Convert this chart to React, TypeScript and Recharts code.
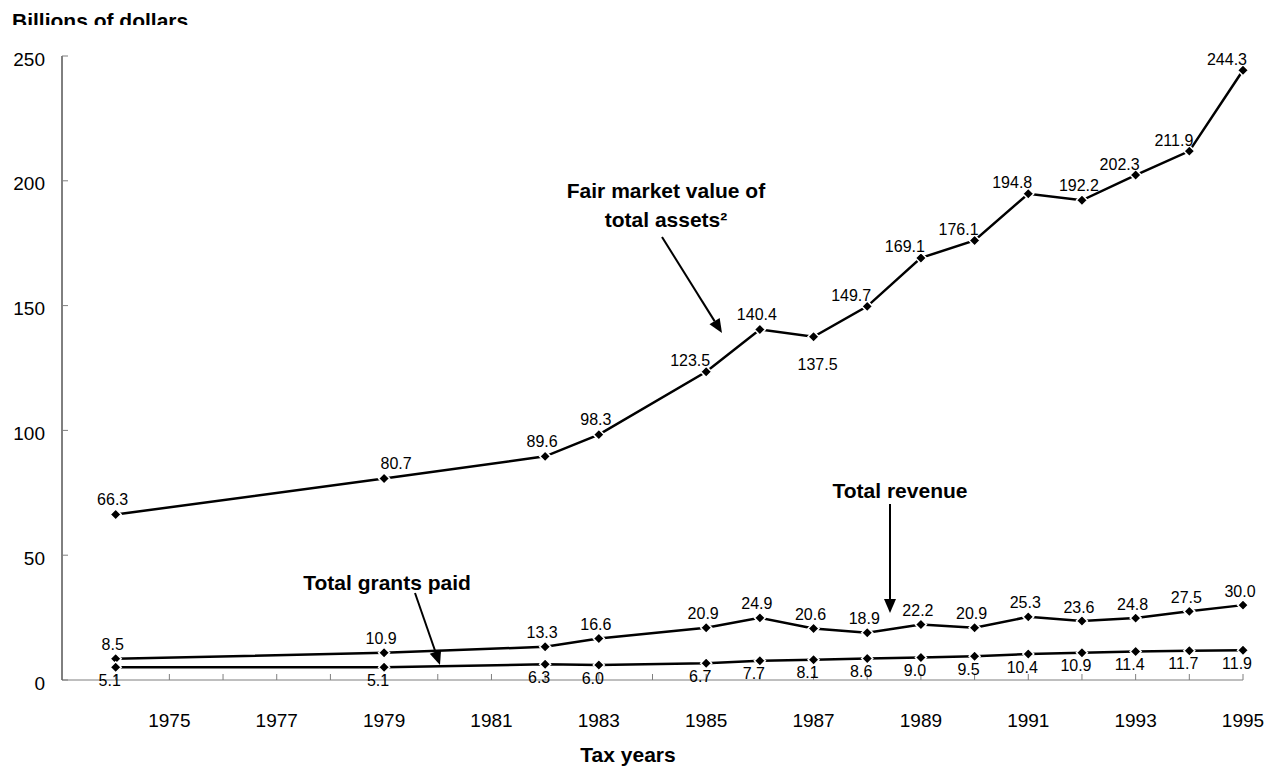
import { LineChart, Line, XAxis, YAxis, LabelList } from "recharts";

const years = [1974, 1979, 1982, 1983, 1985, 1986, 1987, 1988, 1989, 1990, 1991, 1992, 1993, 1994, 1995];
const assets = [66.3, 80.7, 89.6, 98.3, 123.5, 140.4, 137.5, 149.7, 169.1, 176.1, 194.8, 192.2, 202.3, 211.9, 244.3];
const revenue = [8.5, 10.9, 13.3, 16.6, 20.9, 24.9, 20.6, 18.9, 22.2, 20.9, 25.3, 23.6, 24.8, 27.5, 30.0];
const grants = [5.1, 5.1, 6.3, 6.0, 6.7, 7.7, 8.1, 8.6, 9.0, 9.5, 10.4, 10.9, 11.4, 11.7, 11.9];

const yTicks = [0, 50, 100, 150, 200, 250];
const xTicks = [
  1974, 1975, 1976, 1977, 1978, 1979, 1980, 1981, 1982, 1983, 1984,
  1985, 1986, 1987, 1988, 1989, 1990, 1991, 1992, 1993, 1994, 1995,
];
const labeledYears = [1975, 1977, 1979, 1981, 1983, 1985, 1987, 1989, 1991, 1993, 1995];

const data = years.map((year, i) => ({
  year,
  assets: assets[i],
  revenue: revenue[i],
  grants: grants[i],
}));

const FONT = "'Liberation Sans', Arial, Helvetica, sans-serif";

// which asset labels sit centred above / below / right instead of up-left
const assetsCentered = [0, 2, 3, 5, 11];
const assetsRight = [1];
const assetsBelow = [6];

function Diamond(props: any) {
  const { cx, cy } = props;
  if (cx == null || cy == null) return null;
  const r = 5.5;
  return (
    <polygon
      points={`${cx},${cy - r} ${cx + r},${cy} ${cx},${cy + r} ${cx - r},${cy}`}
      fill="#000"
      stroke="#fff"
      strokeWidth={1.5}
    />
  );
}

function fmt(v: number) {
  return v.toFixed(1);
}

function AssetLabel(props: any) {
  const { x, y, value, index } = props;
  let tx = x + 4;
  let ty = y - 11;
  let anchor: "end" | "middle" = "end";
  if (assetsBelow.includes(index)) {
    tx = x + 4;
    ty = y + 28;
    anchor = "middle";
  } else if (assetsRight.includes(index)) {
    tx = x + 12;
    ty = y - 15;
    anchor = "middle";
  } else if (assetsCentered.includes(index)) {
    tx = x - 3;
    ty = y - 15;
    anchor = "middle";
  }
  return (
    <text x={tx} y={ty} textAnchor={anchor} dominantBaseline="central" fontSize={16} fontFamily={FONT} fill="#000">
      {fmt(value)}
    </text>
  );
}

function RevenueLabel(props: any) {
  const { x, y, value } = props;
  return (
    <text x={x - 3} y={y - 14} textAnchor="middle" dominantBaseline="central" fontSize={16} fontFamily={FONT} fill="#000">
      {fmt(value)}
    </text>
  );
}

function GrantsLabel(props: any) {
  const { x, y, value } = props;
  return (
    <text x={x - 6} y={y + 13} textAnchor="middle" dominantBaseline="central" fontSize={16} fontFamily={FONT} fill="#000">
      {fmt(value)}
    </text>
  );
}

function XTick(props: any) {
  const { x, y, payload } = props;
  const show = labeledYears.includes(payload.value);
  return (
    <g>
      <line x1={x} y1={y} x2={x} y2={y - 6} stroke="#7f7f7f" strokeWidth={1} />
      {show && (
        <text x={x} y={y + 40} textAnchor="middle" dominantBaseline="central" fontSize={19} fontFamily={FONT} fill="#000">
          {payload.value}
        </text>
      )}
    </g>
  );
}

function YTick(props: any) {
  const { x, y, payload } = props;
  return (
    <g>
      <line x1={x} y1={y} x2={x + 6} y2={y} stroke="#7f7f7f" strokeWidth={1} />
      <text x={x - 17} y={y + 3} textAnchor="end" dominantBaseline="central" fontSize={19} fontFamily={FONT} fill="#000">
        {payload.value}
      </text>
    </g>
  );
}

function Arrow({ x1, y1, x2, y2 }: { x1: number; y1: number; x2: number; y2: number }) {
  const len = Math.hypot(x2 - x1, y2 - y1);
  const ux = (x2 - x1) / len;
  const uy = (y2 - y1) / len;
  const head = 14;
  const half = 6;
  const bx = x2 - ux * head;
  const by = y2 - uy * head;
  const p1 = `${bx - uy * half},${by + ux * half}`;
  const p2 = `${bx + uy * half},${by - ux * half}`;
  return (
    <g>
      <line x1={x1} y1={y1} x2={bx} y2={by} stroke="#000" strokeWidth={2} />
      <polygon points={`${x2},${y2} ${p1} ${p2}`} fill="#000" />
    </g>
  );
}

export default function App() {
  return (
    <div style={{ position: "relative", width: 1272, height: 768, background: "#fff" }}>
      <style>{"body{margin:0}"}</style>
      <LineChart
        width={1272}
        height={768}
        data={data}
        margin={{ top: 56, right: 29, bottom: 28, left: 0 }}
      >
        <XAxis
          dataKey="year"
          type="number"
          domain={[1973, 1995]}
          ticks={xTicks}
          interval={0}
          tickLine={false}
          tickSize={0}
          tickMargin={0}
          tick={<XTick />}
          height={60}
          stroke="#7f7f7f"
          axisLine={{ stroke: "#7f7f7f", strokeWidth: 1 }}
        />
        <YAxis
          type="number"
          domain={[0, 250]}
          ticks={yTicks}
          interval={0}
          tickLine={false}
          tickSize={0}
          tickMargin={0}
          tick={<YTick />}
          width={62}
          axisLine={{ stroke: "#000", strokeWidth: 1 }}
        />
        <Line
          dataKey="assets"
          stroke="#000"
          strokeWidth={2.5}
          dot={<Diamond />}
          activeDot={false}
          isAnimationActive={false}
        >
          <LabelList dataKey="assets" content={<AssetLabel />} />
        </Line>
        <Line
          dataKey="revenue"
          stroke="#000"
          strokeWidth={2.5}
          dot={<Diamond />}
          activeDot={false}
          isAnimationActive={false}
        >
          <LabelList dataKey="revenue" content={<RevenueLabel />} />
        </Line>
        <Line
          dataKey="grants"
          stroke="#000"
          strokeWidth={2.5}
          dot={<Diamond />}
          activeDot={false}
          isAnimationActive={false}
        >
          <LabelList dataKey="grants" content={<GrantsLabel />} />
        </Line>
      </LineChart>

      <svg
        width={1272}
        height={768}
        style={{ position: "absolute", left: 0, top: 0, pointerEvents: "none" }}
        fontFamily={FONT}
      >
        <defs>
          <clipPath id="titleClip">
            <rect x={0} y={0} width={400} height={25} />
          </clipPath>
        </defs>
        <text x={12} y={28} fontSize={21} fontWeight="bold" clipPath="url(#titleClip)">
          Billions of dollars
        </text>

        <text x={666} y={198} fontSize={21} fontWeight="bold" textAnchor="middle">
          Fair market value of
        </text>
        <text x={666} y={227} fontSize={21} fontWeight="bold" textAnchor="middle">
          total assets²
        </text>
        <Arrow x1={662} y1={237} x2={722} y2={333} />

        <text x={900} y={498} fontSize={21} fontWeight="bold" textAnchor="middle">
          Total revenue
        </text>
        <Arrow x1={890} y1={504} x2={890} y2={613} />

        <text x={387} y={590} fontSize={21} fontWeight="bold" textAnchor="middle">
          Total grants paid
        </text>
        <Arrow x1={415} y1={593} x2={440} y2={665} />

        <text x={628} y={762} fontSize={21} fontWeight="bold" textAnchor="middle">
          Tax years
        </text>
      </svg>
    </div>
  );
}
